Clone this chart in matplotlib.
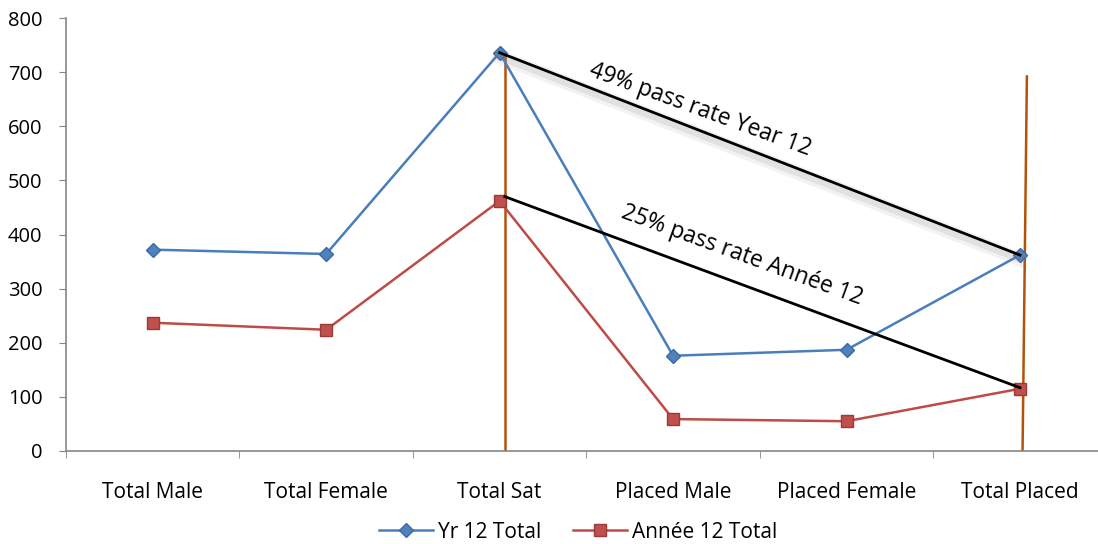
import matplotlib
matplotlib.use("Agg")
import matplotlib.pyplot as plt
import matplotlib.patheffects as pe
import numpy as np

categories = ["Total Male", "Total Female", "Total Sat", "Placed Male", "Placed Female", "Total Placed"]
yr12 = [372, 364, 736, 176, 187, 362]
annee12 = [237, 224, 462, 59, 55, 115]
yticks = [0, 100, 200, 300, 400, 500, 600, 700, 800]

plt.rcParams['font.family'] = ['Open Sans', 'DejaVu Sans']

fig = plt.figure(figsize=(10.98, 5.44), dpi=100)
ax = fig.add_axes([66/1098, 1-451/544, 1-66/1098, (451-18)/544])
x = np.arange(len(categories))

blue = "#4A7EBB"
red = "#BE4B48"
orange = "#B5520A"

# orange vertical lines
ax.plot([2.03, 2.03], [0, 729], color=orange, lw=1.8, zorder=2)
ax.plot([5.015, 5.04], [0, 692], color=orange, lw=1.8, zorder=2)

l1, = ax.plot(x, yr12, color=blue, lw=1.8, marker='D', ms=7.5, mfc="#4F81BD", mec="#3B6AA0", zorder=4, label="Yr 12 Total")
l2, = ax.plot(x, annee12, color=red, lw=1.8, marker='s', ms=9, mfc="#C0504D", mec="#9C3A38", zorder=4, label="Année 12 Total")

# annotation lines
ax.plot([2.0, 5.0], [736, 362], color='black', lw=2, zorder=5,
        path_effects=[pe.SimpleLineShadow(offset=(0, -3), shadow_color='gray', alpha=0.10, rho=0.6, linewidth=10),
                      pe.SimpleLineShadow(offset=(0, -3), shadow_color='gray', alpha=0.15, rho=0.6, linewidth=5),
                      pe.Normal()])
ax.plot([2.03, 5.0], [470, 117], color='black', lw=2, zorder=5)

ax.text(3.157, 630, "49% pass rate Year 12", rotation=-20, ha='center', va='center', fontsize=16.5, zorder=6)
ax.text(3.40, 362, "25% pass rate Année 12", rotation=-20, ha='center', va='center', fontsize=16.5, zorder=6)

ax.set_xlim(-0.495, 5.45)
ax.set_ylim(0, 800)
ax.set_yticks(yticks)
ax.set_xticks(x)
ax.set_xticklabels(categories, fontsize=15)
ax.tick_params(axis='x', length=0, pad=22)
ax.set_xticks(np.arange(-0.5, 5.5, 1.0), minor=True)
ax.tick_params(axis='x', which='minor', length=5, color='#868686', direction='out')
ax.tick_params(axis='y', labelsize=14.5, length=5, color='#868686', pad=12)
for s in ['top', 'right']:
    ax.spines[s].set_visible(False)
for s in ['left', 'bottom']:
    ax.spines[s].set_color('#868686')
    ax.spines[s].set_linewidth(1.2)

fig.legend(handles=[l1, l2], loc='center', bbox_to_anchor=(578/1098, 1-532/544), ncol=2,
           frameon=False, fontsize=15, handlelength=2.6, columnspacing=1.5, handletextpad=0.25)

fig.savefig("out.png", dpi=100)
